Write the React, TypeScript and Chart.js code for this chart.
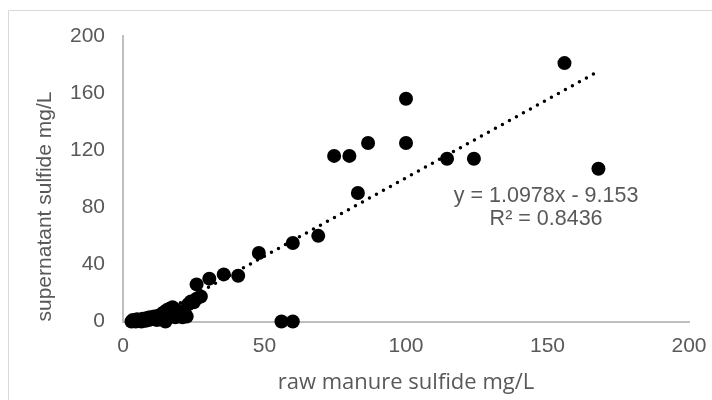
import React, { useEffect, useRef } from "react";
import { Chart, registerables } from "chart.js";

Chart.register(...registerables);

// raw manure sulfide (mg/L)
const rawSulfide: number[] = [
  3, 3.5, 4, 4.5, 5, 5.5, 6, 6.5, 7, 7.5, 8, 8.5, 9, 9.5, 10, 10.5, 11, 11.5, 12, 12.5,
  13, 13.5, 14, 14.5, 15, 15.5, 16, 16.5, 15, 17.5, 18, 18.5, 19, 19.5, 20, 20.5, 21, 22,
  22.5, 23, 24, 25, 26, 27.5,
  26, 30.5, 35.6, 40.7, 48, 60, 69, 83, 74.6, 80, 86.6, 100, 100, 114.5, 124, 156, 168, 56, 60,
];
// supernatant sulfide (mg/L)
const supernatantSulfide: number[] = [
  0, 1, 0.5, 0, 1.5, 0.5, 1, 0, 2, 1, 0.5, 2.5, 1, 3, 1.5, 2, 3.5, 2.5, 1, 4,
  3, 5, 2, 6.5, 4, 8, 5, 9, 0, 10, 7, 3, 8, 5, 4, 6, 3, 5,
  3.5, 12, 14, 13.5, 16, 17.5,
  26, 30, 33, 32, 48, 55, 60, 90, 116, 116, 125, 125, 156, 114, 114, 181, 107, 0, 0,
];

const xTicks: number[] = [0, 50, 100, 150, 200];
const yTicks: number[] = [0, 40, 80, 120, 160, 200];

const trendSlope = 1.0978;
const trendIntercept = -9.153;
const trendLabel: string[] = ["y = 1.0978x - 9.153", "R² = 0.8436"];
const trendLabelAnchor = { x: 149.5, y: 88 };

const xTitle = "raw manure sulfide mg/L";
const yTitle = "supernatant sulfide mg/L";

export default function App() {
  const ref = useRef<HTMLCanvasElement | null>(null);

  useEffect(() => {
    if (!ref.current) return;
    const pts = rawSulfide.map((x, i) => ({ x, y: supernatantSulfide[i] }));
    const xMin = Math.min(...rawSulfide);
    const xMax = Math.max(...rawSulfide);
    const trend = [
      { x: xMin, y: trendSlope * xMin + trendIntercept },
      { x: xMax, y: trendSlope * xMax + trendIntercept },
    ];

    const framePlugin = {
      id: "frame",
      beforeDraw(chart: any) {
        const c = chart.ctx;
        c.save();
        c.fillStyle = "#ffffff";
        c.fillRect(0, 0, chart.width, chart.height);
        c.strokeStyle = "#d9d9d9";
        c.lineWidth = 1;
        c.beginPath();
        c.moveTo(8.5, chart.height);
        c.lineTo(8.5, 10.5);
        c.lineTo(chart.width, 10.5);
        c.stroke();
        c.restore();
      },
      afterDraw(chart: any) {
        const c = chart.ctx;
        const xs = chart.scales.x;
        const ys = chart.scales.y;
        const px = xs.getPixelForValue(trendLabelAnchor.x);
        const py = ys.getPixelForValue(trendLabelAnchor.y);
        c.save();
        c.fillStyle = "#595959";
        c.font = "21.5px 'Liberation Sans', Arial, sans-serif";
        c.textAlign = "center";
        c.textBaseline = "middle";
        trendLabel.forEach((t, i) => c.fillText(t, px, py + i * 23));
        c.restore();
      },
    };

    const chart = new Chart(ref.current, {
      type: "scatter",
      data: {
        datasets: [
          {
            type: "line",
            data: trend,
            borderColor: "#000000",
            borderWidth: 3.5,
            borderDash: [0, 8],
            borderCapStyle: "round",
            pointRadius: 0,
            fill: false,
          } as any,
          {
            data: pts,
            backgroundColor: "#000000",
            borderWidth: 0,
            pointRadius: 7,
            pointHoverRadius: 7,
            clip: false,
          } as any,
        ],
      },
      options: {
        responsive: false,
        animation: false,
        events: [],
        layout: { padding: { top: 36, right: 23, left: 0, bottom: 0 } },
        plugins: { legend: { display: false }, tooltip: { enabled: false } },
        scales: {
          x: {
            type: "linear",
            min: 0,
            max: 200,
            afterBuildTicks: (s: any) => {
              s.ticks = xTicks.map((v) => ({ value: v }));
            },
            afterFit: (s: any) => {
              s.height = 78.5;
              s.paddingLeft = 0;
              s.paddingRight = 0;
            },
            grid: { display: false, drawTicks: false },
            border: { display: true, color: "#bfbfbf", width: 2 },
            ticks: {
              padding: 12,
              color: "#595959",
              font: { family: "'Liberation Sans', Arial, sans-serif", size: 21 },
            },
            title: {
              display: true,
              text: xTitle,
              color: "#595959",
              font: { family: "'Open Sans', sans-serif", size: 22 },
              padding: { top: 0, bottom: 4 },
            },
          },
          y: {
            type: "linear",
            min: 0,
            max: 200,
            afterBuildTicks: (s: any) => {
              s.ticks = yTicks.map((v) => ({ value: v }));
            },
            afterFit: (s: any) => {
              s.width = 123;
              s.paddingTop = 0;
              s.paddingBottom = 0;
            },
            grid: { display: false, drawTicks: false },
            border: { display: true, color: "#bfbfbf", width: 2 },
            ticks: {
              padding: 18,
              color: "#595959",
              font: { family: "'Liberation Sans', Arial, sans-serif", size: 21 },
            },
            title: {
              display: true,
              text: yTitle,
              align: "start",
              color: "#595959",
              font: { family: "'Liberation Sans', Arial, sans-serif", size: 21 },
              padding: { top: 33, bottom: 0 },
            },
          },
        },
      },
      plugins: [framePlugin],
    });

    return () => chart.destroy();
  }, []);

  return (
    <div style={{ position: "fixed", left: 0, top: 0, width: 712, height: 400 }}>
      <canvas ref={ref} width={712} height={400} style={{ display: "block" }} />
    </div>
  );
}
